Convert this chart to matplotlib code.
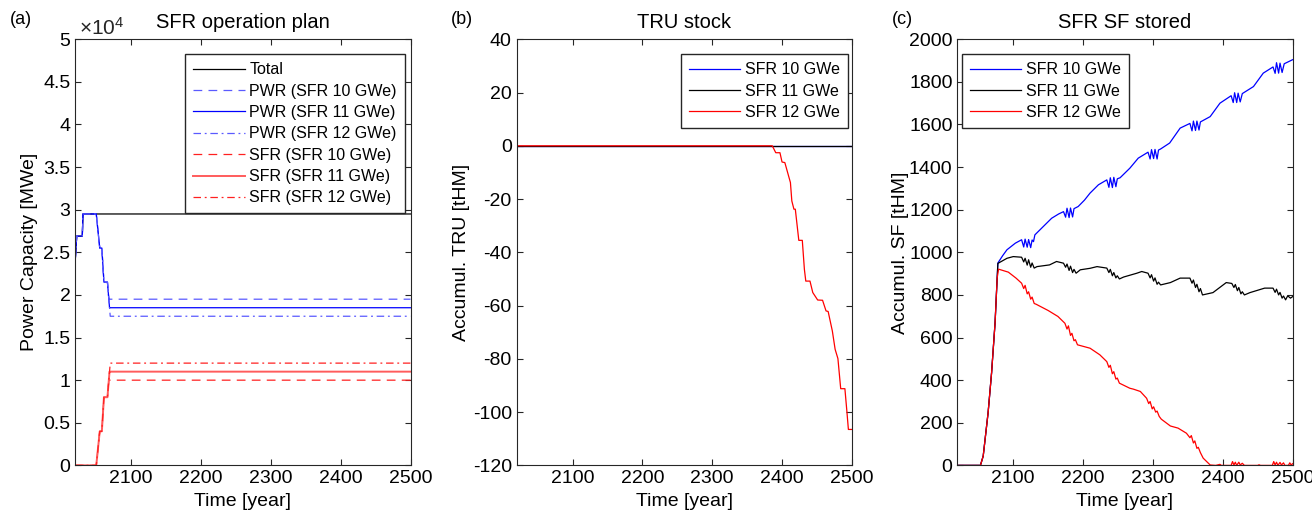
import matplotlib
matplotlib.use('Agg')
import matplotlib.pyplot as plt
from matplotlib.ticker import FuncFormatter

plt.rcParams['font.family'] = ['Liberation Sans', 'DejaVu Sans']
plt.rcParams['mathtext.fontset'] = 'custom'
plt.rcParams['mathtext.rm'] = 'Liberation Sans'
plt.rcParams['mathtext.it'] = 'Liberation Sans'
plt.rcParams['font.size'] = 14
plt.rcParams['axes.unicode_minus'] = False

# (a) SFR operation plan [MWe]
yr_a = [2020, 2022, 2030, 2031, 2050, 2055, 2058, 2061, 2066, 2068, 2069, 2070, 2500]
total = [24200, 26900, 26900, 29500, 29500, 29500, 29500, 29500, 29500, 29500, 29500, 29500, 29500]
pwr10 = [24200, 26900, 26900, 29500, 29500, 25500, 25500, 21500, 21500, 19500, 19500, 19500, 19500]
pwr11 = [24200, 26900, 26900, 29500, 29500, 25500, 25500, 21500, 21500, 19500, 18500, 18500, 18500]
pwr12 = [24200, 26900, 26900, 29500, 29500, 25500, 25500, 21500, 21500, 19500, 18500, 17500, 17500]
sfr10 = [0, 0, 0, 0, 0, 4000, 4000, 8000, 8000, 10000, 10000, 10000, 10000]
sfr11 = [0, 0, 0, 0, 0, 4000, 4000, 8000, 8000, 10000, 11000, 11000, 11000]
sfr12 = [0, 0, 0, 0, 0, 4000, 4000, 8000, 8000, 10000, 11000, 12000, 12000]

# (b) TRU stock [tHM]
yr_b = [2020, 2500]
tru10 = [0, 0]
tru11 = [0, 0]
yr_b12 = [2020, 2386, 2391, 2397, 2400, 2404, 2412, 2414, 2417, 2419, 2424, 2429, 2432, 2434,
          2440, 2444, 2451, 2458, 2463, 2466, 2472, 2476, 2480, 2484, 2490, 2493, 2495, 2500]
tru12 = [0, 0, -2.6, -2.6, -6.1, -6.3, -13.8, -20.7, -23.8, -23.8, -35.5, -35.5, -46.4, -50.8,
         -50.8, -55.1, -57.9, -58.0, -62.0, -62.2, -69.5, -76.4, -79.9, -91.2, -91.2, -100.2, -106.5, -106.5]

# (c) SFR SF stored [tHM]
yr_c10 = [2020, 2053, 2057, 2064, 2069, 2074, 2077, 2078, 2085, 2091, 2103, 2112,
          2115, 2117, 2120, 2122, 2125, 2127, 2129,
          2131, 2143, 2155, 2165, 2172,
          2175, 2177, 2180, 2182, 2185, 2187,
          2193, 2202, 2210, 2222, 2234,
          2237, 2239, 2242, 2244, 2247, 2249,
          2253, 2267, 2279, 2293,
          2296, 2298, 2301, 2303, 2306, 2308, 2311,
          2324, 2339, 2353,
          2356, 2358, 2361, 2363, 2366, 2368,
          2382, 2396, 2412,
          2415, 2417, 2420, 2422, 2425, 2428,
          2444, 2458, 2472,
          2475, 2477, 2480, 2482, 2485, 2488,
          2500]
sf10 = [0, 0, 44, 247, 435, 670, 880, 950, 985, 1012, 1043, 1059,
        1025, 1062, 1024, 1060, 1022, 1058, 1050,
        1082, 1121, 1160, 1180, 1191,
        1165, 1207, 1163, 1208, 1166, 1205,
        1215, 1245, 1278, 1317, 1340,
        1305, 1350, 1304, 1352, 1308, 1345,
        1350, 1395, 1442, 1470,
        1438, 1482, 1440, 1483, 1438, 1480, 1485,
        1513, 1583, 1605,
        1570, 1616, 1572, 1616, 1574, 1612,
        1637, 1700, 1735,
        1703, 1749, 1703, 1747, 1706, 1745,
        1778, 1841, 1870,
        1840, 1890, 1841, 1888, 1844, 1885,
        1904]

yr_c11 = [2020, 2053, 2057, 2064, 2069, 2074, 2077, 2078, 2091, 2100, 2112,
          2115, 2117, 2120, 2122, 2125, 2127, 2130,
          2134, 2152, 2162, 2172,
          2175, 2177, 2180, 2182, 2185, 2187, 2190,
          2196, 2210, 2220, 2234,
          2237, 2239, 2242, 2244, 2247, 2249, 2252,
          2258, 2277, 2284, 2293,
          2296, 2298, 2301, 2303, 2306, 2308, 2311,
          2325, 2339, 2353,
          2356, 2358, 2361, 2363, 2366, 2368, 2371,
          2386, 2405, 2413,
          2416, 2418, 2421, 2423, 2426, 2428, 2431,
          2439, 2460, 2472,
          2475, 2477, 2480, 2482, 2485, 2487, 2490,
          2493, 2497, 2500]
sf11 = [0, 0, 44, 247, 435, 670, 880, 948, 972, 980, 977,
        955, 972, 940, 965, 930, 950, 926,
        933, 941, 957, 949,
        930, 945, 915, 935, 905, 920, 902,
        918, 925, 933, 926,
        905, 920, 890, 905, 880, 890, 875,
        884, 902, 910, 902,
        880, 895, 865, 880, 850, 860, 847,
        858, 879, 879,
        855, 870, 835, 850, 815, 830, 800,
        811, 858, 854,
        835, 849, 820, 835, 805, 815, 800,
        811, 832, 832,
        812, 827, 800, 812, 785, 795, 777,
        796, 785, 792]

yr_c12 = [2020, 2053, 2057, 2064, 2069, 2074, 2077, 2079, 2093, 2104, 2112,
          2115, 2117, 2120, 2122, 2125, 2127, 2130,
          2133, 2150, 2164, 2174,
          2177, 2179, 2182, 2184, 2187, 2189, 2192,
          2210, 2224, 2234,
          2237, 2239, 2242, 2244, 2247, 2249, 2252,
          2267, 2272, 2282, 2291,
          2294, 2296, 2299, 2301, 2304, 2306, 2309,
          2312, 2325, 2336, 2348,
          2353, 2355, 2358, 2360, 2363, 2365, 2368,
          2372, 2382, 2390, 2396, 2398,
          2412, 2414, 2416, 2418, 2420, 2423, 2425, 2428, 2431,
          2450, 2452, 2454,
          2471, 2473, 2475, 2477, 2479, 2482, 2484, 2487, 2489,
          2494, 2496, 2498, 2500]
sf12 = [0, 0, 44, 247, 435, 670, 880, 921, 907, 879, 855,
        830, 845, 805, 815, 780, 790, 760,
        756, 727, 699, 667,
        640, 655, 610, 620, 585, 590, 566,
        550, 519, 487,
        460, 470, 430, 440, 405, 410, 386,
        362, 358, 347, 315,
        290, 300, 265, 275, 250, 255, 230,
        217, 185, 175, 151,
        130, 140, 105, 115, 80, 85, 60,
        34, 2, 0, 5, 0,
        0, 18, 2, 15, 0, 15, 2, 10, 0,
        0, 3, 0,
        0, 18, 2, 15, 0, 14, 2, 12, 0,
        0, 12, 2, 8]

fig = plt.figure(figsize=(13.12, 5.2), dpi=100)
w, h = 0.2555, 0.8195
bot = 0.105
axa = fig.add_axes([0.0574, bot, w, h])
axb = fig.add_axes([0.3938, bot, w, h])
axc = fig.add_axes([0.7297, bot, w, h])

lw = 0.9
leg_kw = dict(fontsize=11.5, frameon=True, fancybox=False, edgecolor='#262626', framealpha=1,
              handlelength=3.2, borderpad=0.5, labelspacing=0.4, handletextpad=0.3, borderaxespad=0)

axa.plot(yr_a, total, color='black', lw=lw, label='Total')
axa.plot(yr_a, pwr10, color='#5a5aff', lw=lw, ls=(0, (7, 5)), label='PWR (SFR 10 GWe)')
axa.plot(yr_a, pwr11, color='#0000ff', lw=lw, label='PWR (SFR 11 GWe)')
axa.plot(yr_a, pwr12, color='#5a5aff', lw=lw, ls=(0, (6, 3, 1.5, 3)), label='PWR (SFR 12 GWe)')
axa.plot(yr_a, sfr10, color='#ff2020', lw=lw, ls=(0, (7, 5)), label='SFR (SFR 10 GWe)')
axa.plot(yr_a, sfr11, color='#ff5c5c', lw=1.4, label='SFR (SFR 11 GWe)')
axa.plot(yr_a, sfr12, color='#ff2020', lw=lw, ls=(0, (6, 3, 1.5, 3)), label='SFR (SFR 12 GWe)')
axa.set_ylim(0, 50000)
axa.set_yticks([i * 5000 for i in range(11)])
axa.yaxis.set_major_formatter(FuncFormatter(lambda v, p: '%g' % (v / 1e4)))
axa.text(0.01, 1.0, r'$\times10^4$', transform=axa.transAxes, ha='left', va='bottom', fontsize=15, color='#262626')
axa.set_ylabel('Power Capacity [MWe]')
axa.set_title('SFR operation plan', fontsize=14.5, pad=8)
axa.legend(loc='upper right', bbox_to_anchor=(0.983, 0.965), **leg_kw)

axb.plot(yr_b, tru10, color='#0000ff', lw=lw, label='SFR 10 GWe')
axb.plot(yr_b, tru11, color='black', lw=lw, label='SFR 11 GWe')
axb.plot(yr_b12, tru12, color='#ff0000', lw=lw, label='SFR 12 GWe')
axb.set_ylim(-120, 40)
axb.set_yticks(range(-120, 41, 20))
axb.set_ylabel('Accumul. TRU [tHM]', labelpad=2)
axb.set_title('TRU stock', fontsize=14.5, pad=8)
axb.legend(loc='upper right', bbox_to_anchor=(0.988, 0.965), **leg_kw)

axc.plot(yr_c10, sf10, color='#0000ff', lw=lw, label='SFR 10 GWe')
axc.plot(yr_c11, sf11, color='black', lw=lw, label='SFR 11 GWe')
axc.plot(yr_c12, sf12, color='#ff0000', lw=lw, label='SFR 12 GWe')
axc.set_ylim(0, 2000)
axc.set_yticks(range(0, 2001, 200))
axc.set_ylabel('Accumul. SF [tHM]', labelpad=0)
axc.set_title('SFR SF stored', fontsize=14.5, pad=8)
axc.legend(loc='upper left', bbox_to_anchor=(0.014, 0.965), **leg_kw)

for ax, lab in zip([axa, axb, axc], ['(a)', '(b)', '(c)']):
    ax.set_xlim(2020, 2500)
    ax.set_xticks([2100, 2200, 2300, 2400, 2500])
    ax.set_xlabel('Time [year]')
    ax.tick_params(direction='in', top=True, right=True, length=4, colors='#262626', labelcolor='black')
    for s in ax.spines.values():
        s.set_color('#262626')
        s.set_linewidth(0.8)
    ax.text(-0.195, 1.047, lab, transform=ax.transAxes, fontsize=13, ha='left', va='center')

fig.savefig('out.png', dpi=100)
